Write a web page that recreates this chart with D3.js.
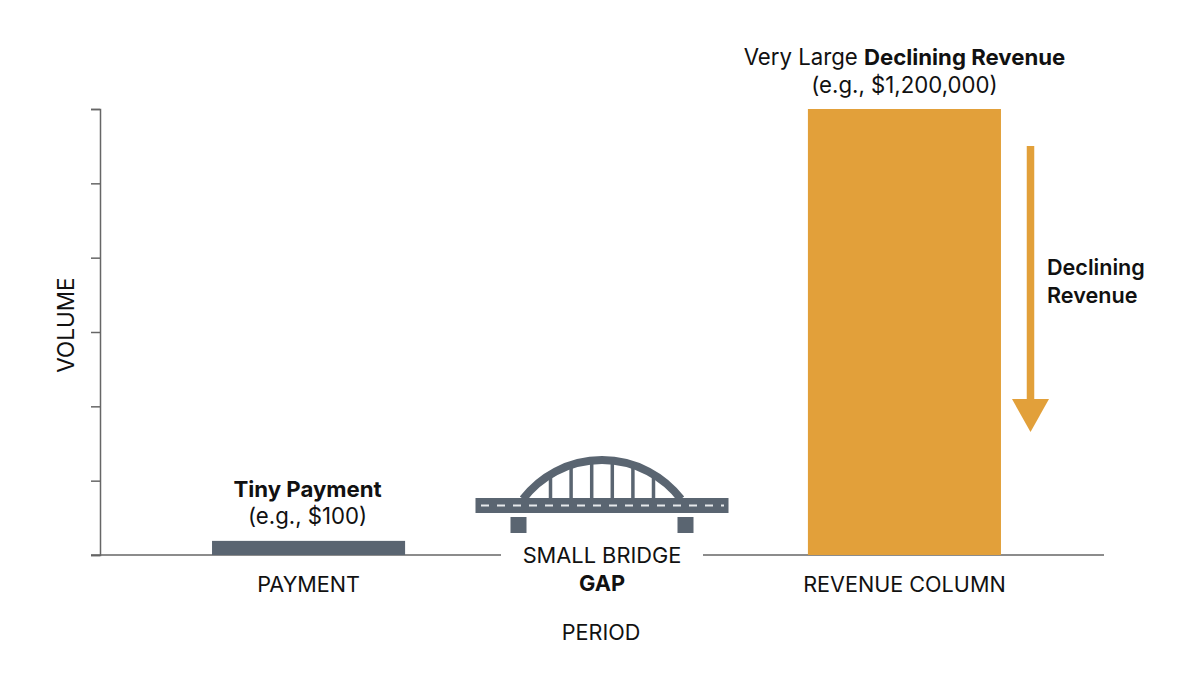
<!DOCTYPE html>
<html>
<head>
<meta charset="utf-8">
<script src="https://cdn.jsdelivr.net/npm/d3@7"></script>
<style>
  body { margin: 0; background: #fff; }
  text { font-family: Inter, Roboto, "Noto Sans", sans-serif; fill: #111; }
</style>
</head>
<body>
<svg id="canvas" width="1200" height="675"></svg>
<script>
// illustrative chart: volumes are relative units, not dollars
const categories = ['PAYMENT', 'GAP', 'REVENUE COLUMN'];
const barCategories = ['PAYMENT', 'REVENUE COLUMN'];
const volumes = [0.19, 6];
const barColors = ['#5a6571', '#e2a03a'];
const yTicks = [0, 1, 2, 3, 4, 5, 6];
const hangerOffsets = [-2.5, -1.5, -0.5, 0.5, 1.5, 2.5];

const slate = '#5a6571';
const orange = '#e2a03a';
const axisColor = '#666';

let canvas = d3.select('#canvas');

const x = d3.scaleBand()
    .domain(categories)
    .range([100, 1113])
    .paddingInner(0.352)
    .paddingOuter(0.376);

const y = d3.scaleLinear()
    .domain([0, 6])
    .range([555, 109]);

const base = y(0);

// y axis
const yAxis = canvas.append('g')
    .attr('transform', 'translate(100,0)')
    .call(d3.axisLeft(y).tickValues(yTicks).tickSize(9).tickFormat(''));
yAxis.select('.domain').attr('stroke', axisColor).attr('stroke-width', 1.5);
yAxis.selectAll('.tick line').attr('stroke', axisColor).attr('stroke-width', 1.5);

// x axis line, broken around the bridge label
const gapCenter = x('GAP') + x.bandwidth() / 2 - 4.5;
canvas.append('line')
    .attr('x1', 91).attr('x2', gapCenter - 101)
    .attr('y1', base).attr('y2', base)
    .attr('stroke', axisColor).attr('stroke-width', 1.5);
canvas.append('line')
    .attr('x1', gapCenter + 101).attr('x2', 1104)
    .attr('y1', base).attr('y2', base)
    .attr('stroke', axisColor).attr('stroke-width', 1.5);

// bars
canvas.selectAll('rect.bar')
    .data(barCategories)
    .enter()
    .append('rect')
    .attr('class', 'bar')
    .attr('x', (d) => x(d))
    .attr('width', x.bandwidth())
    .attr('y', (d, i) => y(volumes[i]))
    .attr('height', (d, i) => base - y(volumes[i]))
    .attr('fill', (d, i) => barColors[i]);

// category labels
canvas.selectAll('text.cat')
    .data(['PAYMENT', 'REVENUE COLUMN'])
    .enter()
    .append('text')
    .attr('class', 'cat')
    .attr('x', (d) => x(d) + x.bandwidth() / 2)
    .attr('y', 592)
    .attr('text-anchor', 'middle')
    .attr('font-size', 21.6)
    .text((d) => d);

canvas.append('text')
    .attr('x', gapCenter).attr('y', 563)
    .attr('text-anchor', 'middle').attr('font-size', 21.8)
    .text('SMALL BRIDGE');
canvas.append('text')
    .attr('x', gapCenter).attr('y', 591)
    .attr('text-anchor', 'middle').attr('font-size', 21.8).attr('font-weight', 'bold')
    .text('GAP');

// axis titles
canvas.append('text')
    .attr('x', gapCenter - 1).attr('y', 640)
    .attr('text-anchor', 'middle').attr('font-size', 21.6)
    .text('PERIOD');
canvas.append('text')
    .attr('transform', 'translate(74,' + (y(3) - 7) + ') rotate(-90)')
    .attr('text-anchor', 'middle').attr('font-size', 22.5)
    .text('VOLUME');

// bridge drawing: circular arch over the deck
const bridge = canvas.append('g');
const deckY = 498;
const archHalf = 79, archRise = 39;
const archR = (archHalf * archHalf + archRise * archRise) / (2 * archRise);
bridge.selectAll('line.hanger')
    .data(hangerOffsets)
    .enter()
    .append('line')
    .attr('class', 'hanger')
    .attr('x1', (d) => gapCenter + d * 20.6)
    .attr('x2', (d) => gapCenter + d * 20.6)
    .attr('y1', deckY)
    .attr('y2', (d) => deckY - (Math.sqrt(archR * archR - Math.pow(d * 20.6, 2)) - (archR - archRise)))
    .attr('stroke', slate).attr('stroke-width', 3.5);
bridge.append('path')
    .attr('d', 'M' + (gapCenter - archHalf) + ',' + (deckY + 1) +
        ' A ' + archR + ' ' + archR + ' 0 0 1 ' + (gapCenter + archHalf) + ',' + (deckY + 1))
    .attr('fill', 'none').attr('stroke', slate).attr('stroke-width', 8);
bridge.append('rect')
    .attr('x', gapCenter - 126.5).attr('y', deckY)
    .attr('width', 253).attr('height', 15)
    .attr('fill', slate);
bridge.append('line')
    .attr('x1', gapCenter - 121).attr('x2', gapCenter + 122)
    .attr('y1', deckY + 7.5).attr('y2', deckY + 7.5)
    .attr('stroke', '#e6e9ec').attr('stroke-width', 2)
    .attr('stroke-dasharray', '8,8');
bridge.selectAll('rect.pier')
    .data([-91.5, 75.5])
    .enter()
    .append('rect')
    .attr('class', 'pier')
    .attr('x', (d) => gapCenter + d)
    .attr('y', 517).attr('width', 16).attr('height', 16)
    .attr('fill', slate);

// annotations
const payCenter = x('PAYMENT') + x.bandwidth() / 2;
canvas.append('text')
    .attr('x', payCenter - 1).attr('y', 497)
    .attr('text-anchor', 'middle').attr('font-size', 22.2).attr('font-weight', 'bold')
    .text('Tiny Payment');
canvas.append('text')
    .attr('x', payCenter - 1).attr('y', 524)
    .attr('text-anchor', 'middle').attr('font-size', 22.2)
    .text('(e.g., $100)');

const revCenter = x('REVENUE COLUMN') + x.bandwidth() / 2;
const top1 = canvas.append('text')
    .attr('x', revCenter).attr('y', 65)
    .attr('text-anchor', 'middle').attr('font-size', 22.2);
top1.append('tspan').text('Very Large ');
top1.append('tspan').attr('font-weight', 'bold').text('Declining Revenue');
canvas.append('text')
    .attr('x', revCenter).attr('y', 93)
    .attr('text-anchor', 'middle').attr('font-size', 22.2)
    .text('(e.g., $1,200,000)');

// declining arrow
const arrowX = 1030.5;
canvas.append('rect')
    .attr('x', arrowX - 3.75).attr('y', 146)
    .attr('width', 7.5).attr('height', 256)
    .attr('fill', orange);
canvas.append('path')
    .attr('d', 'M' + (arrowX - 18.5) + ',399 L' + (arrowX + 18.5) + ',399 L' + arrowX + ',432 Z')
    .attr('fill', orange);

canvas.append('text')
    .attr('x', 1047).attr('y', 275)
    .attr('font-size', 21.6).attr('font-weight', 600)
    .text('Declining');
canvas.append('text')
    .attr('x', 1047).attr('y', 303)
    .attr('font-size', 21.6).attr('font-weight', 600)
    .text('Revenue');
</script>
</body>
</html>
